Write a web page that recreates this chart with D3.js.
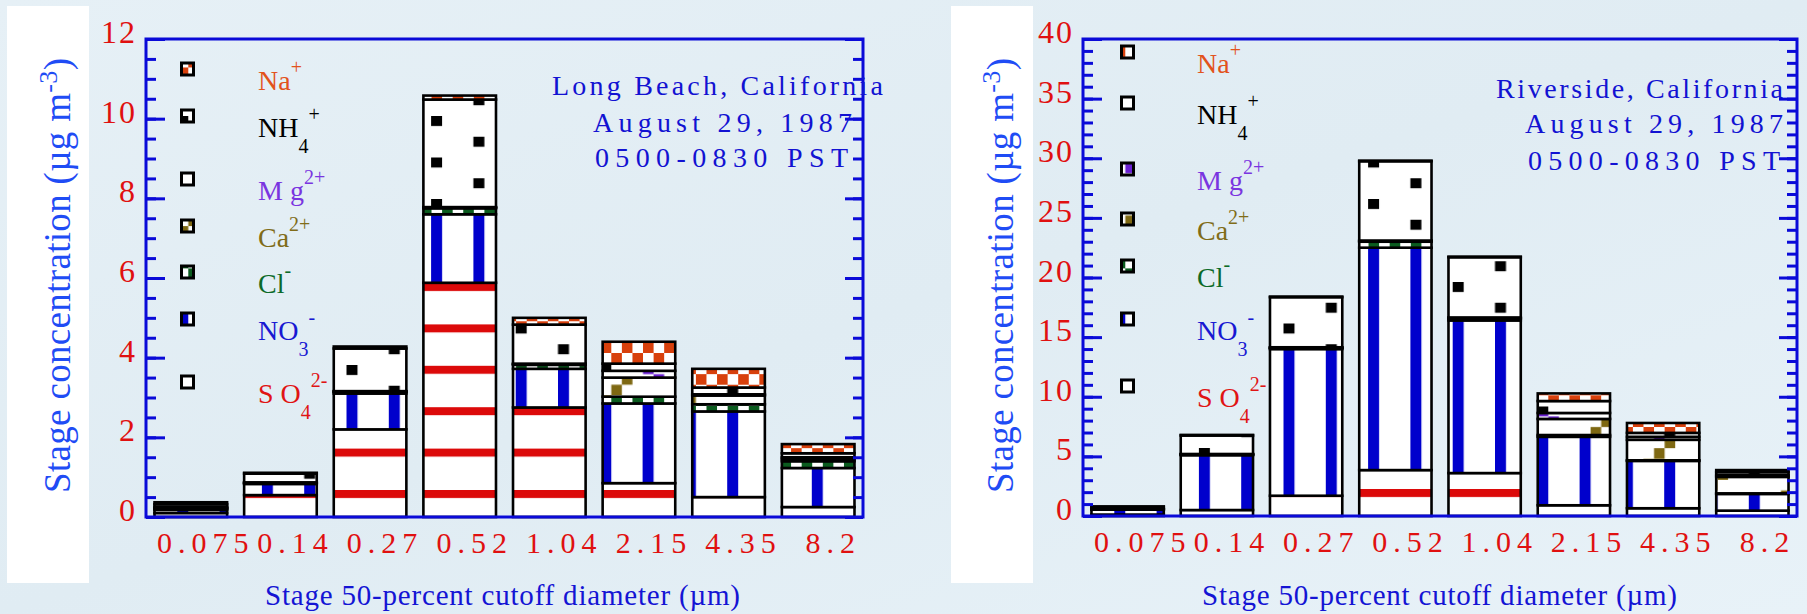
<!DOCTYPE html>
<html>
<head>
<meta charset="utf-8">
<script src="https://cdnjs.cloudflare.com/ajax/libs/d3/7.8.5/d3.min.js"></script>
<style>
html,body{margin:0;padding:0;background:#e3eef5;}
svg{display:block;}
</style>
</head>
<body>
<svg id="chart" width="1807" height="614"></svg>
<script>
// ---------------- DATA ----------------
const categories = ["0.075","0.14","0.27","0.52","1.04","2.15","4.35","8.2"];
const speciesKeys = ["SO4","NO3","Cl","Ca","Mg","NH4","Na"];

// Long Beach, stage concentrations (µg m-3)
const lbSO4 = [0.10, 0.55, 2.20, 5.88, 2.75, 0.85, 0.50, 0.25];
const lbNO3 = [0.08, 0.28, 0.90, 1.72, 0.97, 2.00, 2.15, 0.98];
const lbCl  = [0.03, 0.02, 0.04, 0.15, 0.10, 0.17, 0.18, 0.17];
const lbCa  = [0.02, 0.01, 0.01, 0.02, 0.02, 0.48, 0.22, 0.06];
const lbMg  = [0.02, 0.01, 0.01, 0.01, 0.01, 0.17, 0.03, 0.04];
const lbNH4 = [0.07, 0.22, 1.07, 2.70, 0.98, 0.18, 0.17, 0.10];
const lbNa  = [0.05, 0.02, 0.05, 0.10, 0.17, 0.55, 0.47, 0.23];

// Riverside, stage concentrations (µg m-3)
const rvSO4 = [0.12, 0.50, 1.70, 3.85, 3.60, 0.90, 0.65, 0.45];
const rvNO3 = [0.42, 4.60, 12.30, 18.65, 12.80, 5.74, 3.97, 1.40];
const rvCl  = [0.02, 0.05, 0.08, 0.50, 0.15, 0.15, 0.05, 0.05];
const rvCa  = [0.02, 0.03, 0.04, 0.05, 0.05, 1.35, 1.72, 1.38];
const rvMg  = [0.01, 0.02, 0.03, 0.05, 0.05, 0.50, 0.25, 0.15];
const rvNH4 = [0.18, 1.55, 4.20, 6.65, 5.05, 1.00, 0.33, 0.25];
const rvNa  = [0.03, 0.05, 0.05, 0.05, 0.05, 0.64, 0.83, 0.17];

const lbYTicks = [0, 2, 4, 6, 8, 10, 12];
const rvYTicks = [0, 5, 10, 15, 20, 25, 30, 35, 40];

const lbStation = ["Long Beach, California", "August 29, 1987", "0500-0830 PST"];
const rvStation = ["Riverside, California", "August 29, 1987", "0500-0830 PST"];

// legend entries, top to bottom
const legendOrder = ["Na","NH4","Mg","Ca","Cl","NO3","SO4"];
const legendParts = {
  Na:  [["Na","b"],["+","sup"]],
  NH4: [["NH","b"],["4","sub"],["+","sup"]],
  Mg:  [["M g","b"],["2+","sup"]],
  Ca:  [["Ca","b"],["2+","sup"]],
  Cl:  [["Cl","b"],["-","sup"]],
  NO3: [["NO","b"],["3","sub"],["-","sup"]],
  SO4: [["S O","b"],["4","sub"],["2-","sup"]]
};

// ---------------- STYLE ----------------
const patColor = {SO4:"#dc0a0a", NO3:"#0000cc", Cl:"#0b5c1f", Ca:"#7e6812", Mg:"#6a1fd2", NH4:"#000000", Na:"#d8400c"};
const labColor = {SO4:"#e01414", NO3:"#1818d2", Cl:"#0c6a28", Ca:"#806c18", Mg:"#7a35e0", NH4:"#000000", Na:"#e2521c"};
const axisBlue = "#0a0ad8";
const tickRed = "#e01010";
const SERIF = "'Liberation Serif','DejaVu Serif',serif";

const svg = d3.select("#chart");
const defs = svg.append("defs");

// background
const bg = defs.append("linearGradient").attr("id","bg").attr("x1",0).attr("y1",0).attr("x2",1).attr("y2",1);
bg.append("stop").attr("offset","0%").attr("stop-color","#e6f0f6");
bg.append("stop").attr("offset","50%").attr("stop-color","#e0ecf3");
bg.append("stop").attr("offset","100%").attr("stop-color","#e8f2f8");
svg.append("rect").attr("width",1807).attr("height",614).attr("fill","url(#bg)");

function makePatterns(id, H) {
  const c = 10.575;
  function pat(key, w, h, px, py) {
    const p = defs.append("pattern").attr("id", key + "-" + id)
      .attr("patternUnits","userSpaceOnUse")
      .attr("x", px).attr("y", py).attr("width", w).attr("height", h);
    p.append("rect").attr("width", w).attr("height", h).attr("fill", "#fff");
    return p;
  }
  // SO4: horizontal red stripes anchored to the bottom
  const sp = 41.4;
  let p = pat("SO4", 20, sp, 0, (((H - 27) % sp) + sp) % sp);
  p.append("rect").attr("width", 20).attr("height", 8).attr("fill", patColor.SO4);
  // NO3: vertical blue stripes
  p = pat("NO3", 42.3, 20, 31.3, 0);
  p.append("rect").attr("width", 11).attr("height", 20).attr("fill", patColor.NO3);
  // NH4: staggered black squares
  p = pat("NH4", 84.6, 41.5, 31.3, 35.5);
  p.append("rect").attr("x", 0).attr("y", 0).attr("width", 11).attr("height", 10).attr("fill", "#000");
  p.append("rect").attr("x", 42.3).attr("y", 20.75).attr("width", 11).attr("height", 10).attr("fill", "#000");
  // Na, Cl: checkerboards
  ["Na","Cl"].forEach(k => {
    const q = pat(k, 2*c, 2*c, 0, 17.9);
    q.append("rect").attr("x",0).attr("y",0).attr("width",c).attr("height",c).attr("fill",patColor[k]);
    q.append("rect").attr("x",c).attr("y",c).attr("width",c).attr("height",c).attr("fill",patColor[k]);
  });
  // Ca: up-right diagonal steps ; Mg: down-right diagonal steps
  const pc = pat("Ca", 8*c, 8*c, 0, 17.9);
  const pm = pat("Mg", 8*c, 8*c, 0, 17.9);
  for (let i = 0; i < 8; i++) {
    pc.append("rect").attr("x", i*c).attr("y", (((3 - i) % 8) + 8) % 8 * c).attr("width", c).attr("height", c).attr("fill", patColor.Ca);
    pm.append("rect").attr("x", i*c).attr("y", (((i - 2) % 8) + 8) % 8 * c).attr("width", c).attr("height", c).attr("fill", patColor.Mg);
  }
}

function drawPanel(cfg) {
  // white box behind the y title
  svg.append("rect").attr("x", cfg.whiteX).attr("y", 6).attr("width", 82).attr("height", 577).attr("fill", "#fff");

  const W = cfg.x1 - cfg.x0, H = cfg.bottom - cfg.top;
  makePatterns(cfg.id, H);
  const g = svg.append("g").attr("transform", `translate(${cfg.x0},${cfg.top})`);

  const x = d3.scaleBand().domain(categories).range([0, W]).paddingInner(0.19).paddingOuter(0.095);
  const y = d3.scaleLinear().domain([0, cfg.yTicks[cfg.yTicks.length - 1]]).range([H, 0]);

  const rows = categories.map((cat, i) => {
    const o = {cat};
    speciesKeys.forEach((k, j) => { o[k] = cfg.series[j][i]; });
    return o;
  });
  const layers = d3.stack().keys(speciesKeys)(rows);
  layers.forEach(layer => {
    g.append("g").selectAll("rect").data(layer).join("rect")
      .attr("x", d => x(d.data.cat))
      .attr("width", x.bandwidth())
      .attr("y", d => y(d[1]))
      .attr("height", d => y(d[0]) - y(d[1]))
      .attr("fill", `url(#${layer.key}-${cfg.id})`)
      .attr("stroke", "#000")
      .attr("stroke-width", 2.6);
  });

  // axes
  const minorVals = d3.range(0, y.domain()[1] + 1e-9, cfg.minor);
  const styleAx = sel => {
    sel.select(".domain").remove();
    sel.selectAll(".tick line").attr("stroke", axisBlue).attr("stroke-width", 3);
  };
  g.append("g").call(d3.axisLeft(y).tickValues(minorVals).tickSize(-10).tickFormat("")).call(styleAx);
  g.append("g").attr("transform", `translate(${W},0)`).call(d3.axisRight(y).tickValues(minorVals).tickSize(-10).tickFormat("")).call(styleAx);
  g.append("g").attr("transform", `translate(${W},0)`).call(d3.axisRight(y).tickValues(cfg.yTicks).tickSize(-18).tickFormat("")).call(styleAx);
  const yl = g.append("g").call(d3.axisLeft(y).tickValues(cfg.yTicks).tickSize(-19).tickPadding(9)).call(styleAx);
  yl.attr("font-family", SERIF).attr("font-size", 32);
  yl.selectAll("text").attr("fill", tickRed).attr("dy", 3.5).attr("letter-spacing", 2);

  const xl = g.append("g").attr("transform", `translate(0,${H})`).call(d3.axisBottom(x).tickSize(0).tickPadding(0));
  xl.select(".domain").remove();
  xl.attr("font-family", SERIF).attr("font-size", 30);
  xl.selectAll("text").attr("fill", tickRed).attr("y", 36).attr("dy", 0).attr("dx", 15).attr("letter-spacing", 6);

  // frame
  g.append("rect").attr("width", W).attr("height", H).attr("fill", "none").attr("stroke", axisBlue).attr("stroke-width", 3);

  // legend (squares are filled with the same patterns, in the plot's space)
  legendOrder.forEach((k, i) => {
    const b = cfg.legendBase[i];
    g.append("rect")
      .attr("x", cfg.legendX - cfg.x0 + 1.5).attr("y", b - 21 - cfg.top - 6)
      .attr("width", 12).attr("height", 12)
      .attr("fill", `url(#${k}-${cfg.id})`).attr("stroke", "#000").attr("stroke-width", 3);
    const t = svg.append("text").attr("x", cfg.legendLabelX).attr("y", b)
      .attr("font-family", SERIF).attr("font-size", 28).attr("fill", labColor[k]);
    let cur = 0;
    legendParts[k].forEach(([s, kind]) => {
      const target = kind === "sub" ? 16 : kind === "sup" ? -16 : 0;
      t.append("tspan").attr("dy", target - cur).attr("font-size", kind === "b" ? 28 : 20).text(s);
      cur = target;
    });
  });

  // station text
  cfg.station.forEach((s, i) => {
    const L = cfg.stationLayout[i];
    svg.append("text").attr("x", L[0]).attr("y", L[1])
      .attr("textLength", L[2]).attr("lengthAdjust", "spacing")
      .attr("font-family", SERIF).attr("font-size", 28).attr("fill", "#1212d2").text(s);
  });

  // y title
  const yt = svg.append("text")
    .attr("transform", `translate(${cfg.yTitleX},493) rotate(-90)`)
    .attr("textLength", 435).attr("lengthAdjust", "spacing")
    .attr("font-family", SERIF).attr("font-size", 37).attr("fill", "#1f4cf5");
  yt.append("tspan").text("Stage concentration  (µg m");
  yt.append("tspan").attr("dy", -13).attr("font-size", 26).text("-3");
  yt.append("tspan").attr("dy", 13).text(")");

  // x title
  svg.append("text").attr("x", cfg.xTitleX).attr("y", 605)
    .attr("font-family", SERIF).attr("font-size", 29).attr("fill", "#1414d4")
    .attr("letter-spacing", 0.8)
    .text("Stage 50-percent cutoff diameter (µm)");
}

drawPanel({
  id: "lb", x0: 146, x1: 863, top: 39, bottom: 517, minor: 0.5,
  yTicks: lbYTicks,
  series: [lbSO4, lbNO3, lbCl, lbCa, lbMg, lbNH4, lbNa],
  whiteX: 7, yTitleX: 70, xTitleX: 265,
  legendX: 180, legendLabelX: 258, legendBase: [90, 137, 200, 247, 293, 340, 403],
  station: lbStation, stationLayout: [[552, 95, 331], [593, 132, 259], [595, 167, 253]]
});
drawPanel({
  id: "rv", x0: 1083, x1: 1797, top: 39, bottom: 516, minor: 1,
  yTicks: rvYTicks,
  series: [rvSO4, rvNO3, rvCl, rvCa, rvMg, rvNH4, rvNa],
  whiteX: 951, yTitleX: 1013, xTitleX: 1202,
  legendX: 1120, legendLabelX: 1197, legendBase: [73, 124, 190, 240, 287, 340, 407],
  station: rvStation, stationLayout: [[1496, 98, 287], [1525, 133, 258], [1528, 170, 252]]
});
</script>
</body>
</html>
